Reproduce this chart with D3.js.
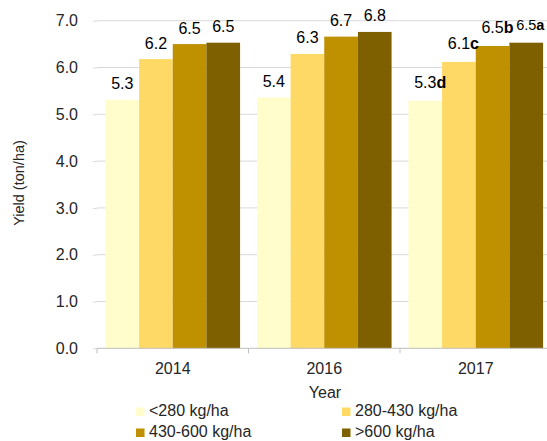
<!DOCTYPE html>
<html>
<head>
<meta charset="utf-8">
<script src="https://cdn.jsdelivr.net/npm/d3@7"></script>
<style>
  body { margin: 0; background: #fff; }
  svg { display: block; font-family: "Liberation Sans", Arial, sans-serif; }
</style>
</head>
<body>
<svg id="chart" width="547" height="441"></svg>
<script>
// chart data
const years = ['2014', '2016', '2017'];
const seriesNames = ['<280 kg/ha', '280-430 kg/ha', '430-600 kg/ha', '>600 kg/ha'];
const yield2014 = [5.31, 6.18, 6.50, 6.53];
const yield2016 = [5.36, 6.29, 6.66, 6.76];
const yield2017 = [5.29, 6.12, 6.46, 6.53];
const letters2017 = ['d', 'c', 'b', 'a'];
const yTicks = [0, 1, 2, 3, 4, 5, 6, 7];

const colors = ['#FFFDCC', '#FFD966', '#BF9000', '#7F6000'];

const rows = [
  { year: '2014', values: yield2014, letters: null },
  { year: '2016', values: yield2016, letters: null },
  { year: '2017', values: yield2017, letters: letters2017 },
];

const svg = d3.select('#chart');
const plotLeft = 97, plotRight = 551.5, plotTop = 20.7, plotBottom = 348.3;

const x0 = d3.scaleBand().domain(years).range([plotLeft, plotRight]).padding(0);
const x1 = d3.scaleBand()
  .domain(seriesNames)
  .range([0, x0.bandwidth()])
  .paddingInner(0)
  .paddingOuter(0.25);
const y = d3.scaleLinear().domain([0, 7]).range([plotBottom, plotTop]);

// gridlines
svg.append('g')
  .selectAll('line')
  .data(yTicks.filter((d) => d > 0))
  .join('line')
  .attr('x1', plotLeft)
  .attr('x2', 547)
  .attr('y1', (d) => y(d))
  .attr('y2', (d) => y(d))
  .attr('stroke', '#d9d9d9')
  .attr('stroke-width', 1);

// y axis labels
const yAxis = svg.append('g')
  .attr('transform', `translate(${plotLeft},0)`)
  .call(d3.axisLeft(y).tickValues(yTicks).tickFormat(d3.format('.1f')).tickSize(4).tickPadding(15));
yAxis.select('.domain').remove();
yAxis.selectAll('line').attr('stroke', '#d9d9d9');
yAxis.selectAll('text')
  .attr('font-size', 16)
  .attr('fill', '#262626')
  .attr('font-family', '"Liberation Sans", Arial, sans-serif');

// bars
const groups = svg.append('g')
  .selectAll('g')
  .data(rows)
  .join('g')
  .attr('transform', (d) => `translate(${x0(d.year)},0)`);

groups.selectAll('rect')
  .data((d) => d.values.map((v, i) => ({ name: seriesNames[i], value: v, i })))
  .join('rect')
  .attr('x', (d) => x1(d.name))
  .attr('y', (d) => y(d.value))
  .attr('width', x1.bandwidth())
  .attr('height', (d) => y(0) - y(d.value))
  .attr('fill', (d) => colors[d.i]);

// value labels
groups.each(function (row) {
  const g = d3.select(this);
  row.values.forEach((v, i) => {
    const cx = x1(seriesNames[i]) + x1.bandwidth() / 2;
    const fs = row.letters && i === 3 ? 14.5 : 16;
    const t = g.append('text')
      .attr('y', y(v) - (row.letters ? 12.5 : 10.5))
      .attr('font-size', fs)
      .attr('fill', '#000');
    t.append('tspan').text(v.toFixed(1));
    const numW = t.node().getComputedTextLength();
    if (row.letters) {
      t.append('tspan').attr('font-weight', 'bold').text(row.letters[i]);
    }
    t.attr('x', cx - numW / 2);
  });
});

// x axis
const xAxisG = svg.append('g').attr('transform', `translate(0,${plotBottom})`);
xAxisG.append('line')
  .attr('x1', plotLeft).attr('x2', 547)
  .attr('stroke', '#bfbfbf');
xAxisG.selectAll('line.tick')
  .data([...years.map((d) => x0(d)), plotRight])
  .join('line')
  .attr('class', 'tick')
  .attr('x1', (d) => d).attr('x2', (d) => d)
  .attr('y1', 0).attr('y2', 5)
  .attr('stroke', '#bfbfbf');
xAxisG.selectAll('text')
  .data(years)
  .join('text')
  .attr('x', (d) => x0(d) + x0.bandwidth() / 2)
  .attr('y', 26)
  .attr('text-anchor', 'middle')
  .attr('font-size', 16)
  .attr('fill', '#262626')
  .text((d) => d);

// axis titles
svg.append('text')
  .attr('x', 325)
  .attr('y', 398)
  .attr('text-anchor', 'middle')
  .attr('font-size', 16)
  .attr('fill', '#262626')
  .text('Year');

svg.append('text')
  .attr('transform', 'translate(24,183) rotate(-90)')
  .attr('text-anchor', 'middle')
  .attr('font-size', 14.5)
  .attr('fill', '#262626')
  .text('Yield (ton/ha)');

// legend
const legendPos = [[136, 416], [342, 416], [136, 437], [342, 437]];
const legend = svg.append('g')
  .selectAll('g')
  .data(seriesNames)
  .join('g')
  .attr('transform', (d, i) => `translate(${legendPos[i][0]},${legendPos[i][1]})`);
legend.append('rect')
  .attr('x', 0).attr('y', -8.5)
  .attr('width', 8.5).attr('height', 8.5)
  .attr('fill', (d, i) => colors[i]);
legend.append('text')
  .attr('x', 13)
  .attr('y', 0)
  .attr('font-size', 16)
  .attr('fill', '#262626')
  .text((d) => d);
</script>
</body>
</html>
